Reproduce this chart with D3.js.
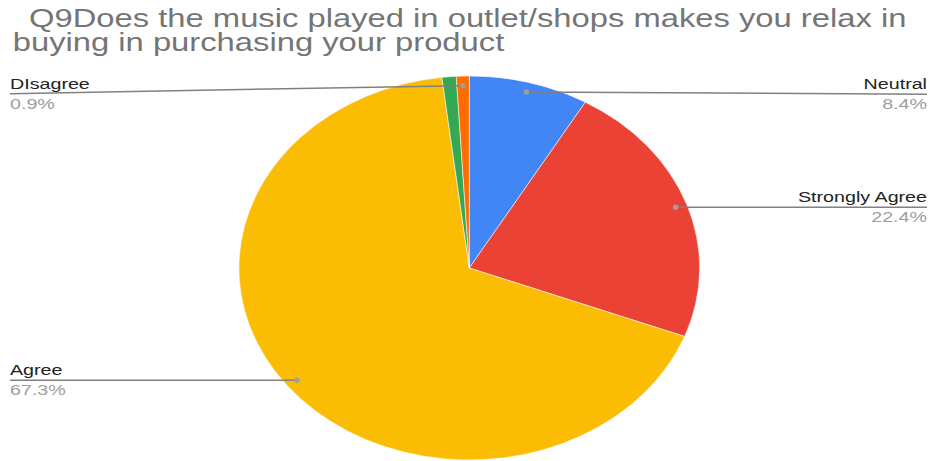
<!DOCTYPE html>
<html>
<head>
<meta charset="utf-8">
<script src="https://cdn.jsdelivr.net/npm/d3@7"></script>
<style>
  html, body { margin: 0; padding: 0; background: #fff; }
  svg { display: block; }
  text { font-family: "Liberation Sans", Arial, sans-serif; }
</style>
</head>
<body>
<svg id="chart" width="930" height="461"></svg>
<script>
// Survey answers, clockwise from 12 o'clock
const categories = ["Neutral", "Strongly Agree", "Agree", "Strongly Disagree", "DIsagree"];
const percents   = [8.4, 22.4, 67.3, 1.0, 0.9];
const sliceColors = ["#4285F4", "#EA4335", "#FBBC04", "#34A853", "#FF6D01"];
const labelled   = [true, true, true, false, true];
const titleLines = [
  "Q9Does the music played in outlet/shops makes you relax in",
  "buying in purchasing your product"
];

// Layout
const width = 930, height = 461;
const pieStretch = 1.2;      // pie is drawn as a horizontally widened ellipse
const textStretch = 1.27;    // label glyphs are widened as well
const titleStretch = 1.285;
const cx = 469.3, cy = 268;
const radius = 192;
const leftX = 10, rightX = 927;
const titleX = [29, 12.7], titleY = [27.3, 50.7];
// vertical offsets of the leader-line ends relative to their anchor dots
const lineEndDy = [2.3, 0, 0, 0, 8];

const svg = d3.select("#chart");

function stretchedText(g, x, y, str, s = textStretch) {
  return g.append("text")
    .attr("transform", `translate(${x},${y}) scale(${s},1)`)
    .text(str);
}

// Title
const titleG = svg.append("g").attr("fill", "#757575").attr("font-size", 25.5);
titleLines.forEach((t, i) => stretchedText(titleG, titleX[i], titleY[i], t, titleStretch));

const pie = d3.pie().sort(null).value(d => d.value);
const data = categories.map((c, i) => ({
  name: c, value: percents[i], color: sliceColors[i], show: labelled[i], idx: i
}));
const arcs = pie(data);
const arc = d3.arc().innerRadius(0).outerRadius(radius);

const pieG = svg.append("g")
  .attr("transform", `translate(${cx},${cy}) scale(${pieStretch},1)`);
pieG.selectAll("path")
  .data(arcs)
  .join("path")
  .attr("d", arc)
  .attr("fill", d => d.data.color)
  .attr("stroke", "#fff")
  .attr("stroke-width", 0.5);

// Leader lines and labels
const anchorArc = d3.arc().innerRadius(radius * 0.95).outerRadius(radius * 0.95);
const labelG = svg.append("g");
arcs.filter(d => d.data.show).forEach(d => {
  const [ax, ay] = anchorArc.centroid(d);
  const px = cx + ax * pieStretch, py = cy + ay;
  const mid = (d.startAngle + d.endAngle) / 2;
  const right = Math.sin(mid) > 0 && mid < Math.PI * 1.9;
  const endX = right ? rightX : leftX;
  const endY = py + lineEndDy[d.data.idx];

  labelG.append("line")
    .attr("x1", px).attr("y1", py)
    .attr("x2", endX).attr("y2", endY)
    .attr("stroke", "#808080")
    .attr("stroke-width", 1.5);
  labelG.append("circle")
    .attr("cx", px).attr("cy", py)
    .attr("r", 2.7)
    .attr("fill", "#9e9e9e");

  const anchor = right ? "end" : "start";
  stretchedText(labelG, endX, endY - 5, d.data.name)
    .attr("text-anchor", anchor)
    .attr("font-size", 15.5)
    .attr("fill", "#222");
  stretchedText(labelG, endX, endY + 15, d3.format(".1f")(d.data.value) + "%")
    .attr("text-anchor", anchor)
    .attr("font-size", 15.5)
    .attr("fill", "#9e9e9e");
});
</script>
</body>
</html>
